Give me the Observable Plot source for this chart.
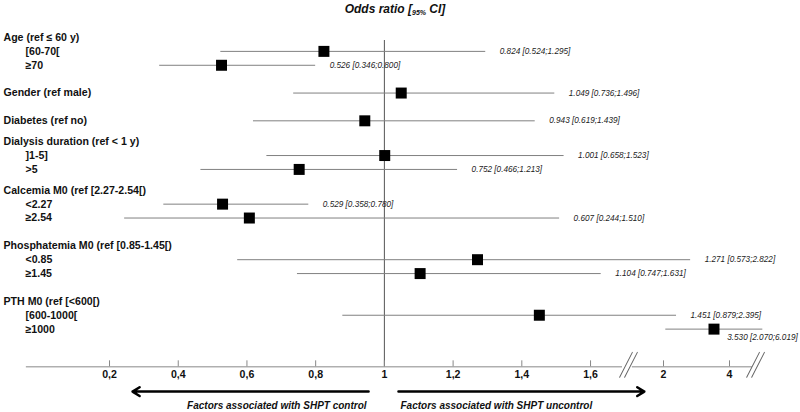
<!DOCTYPE html>
<html><head><meta charset="utf-8">
<script src="https://cdn.jsdelivr.net/npm/d3@7"></script>
<script src="https://cdn.jsdelivr.net/npm/@observablehq/plot@0.6"></script>
<style>
body{margin:0;background:#fff;font-family:"Liberation Sans",Arial,sans-serif;}
#title{height:18px;line-height:18px;width:800px;text-align:center;font-size:12px;font-weight:bold;font-style:italic;padding-right:10px;box-sizing:border-box;color:#111;}
#title sub{font-size:7px;vertical-align:-2px;}
</style></head><body>
<div id="title">Odds ratio [<sub>95%</sub> CI]</div>
<div id="chart"></div>
<script>
// ---- data ----
const headers = ["Age (ref ≤ 60 y)", "Gender (ref male)", "Diabetes (ref no)", "Dialysis duration (ref < 1 y)",
  "Calcemia M0 (ref [2.27-2.54[)", "Phosphatemia M0 (ref [0.85-1.45[)", "PTH M0 (ref [<600[)"];
const levels = ["[60-70[", "≥70", "]1-5]", ">5", "<2.27", "≥2.54", "<0.85", "≥1.45", "[600-1000[", "≥1000"];
const rowKeys = ["[60-70[", "≥70", "Gender (ref male)", "Diabetes (ref no)", "]1-5]", ">5", "<2.27", "≥2.54",
  "<0.85", "≥1.45", "[600-1000[", "≥1000"];
const oddsRatio = [0.824, 0.526, 1.049, 0.943, 1.001, 0.752, 0.529, 0.607, 1.271, 1.104, 1.451, 3.530];
const ciLow     = [0.524, 0.346, 0.736, 0.619, 0.658, 0.466, 0.358, 0.244, 0.573, 0.747, 0.879, 2.070];
const ciHigh    = [1.295, 0.800, 1.496, 1.439, 1.523, 1.213, 0.780, 1.510, 2.822, 1.631, 2.395, 6.019];
const tickValues = [0.2, 0.4, 0.6, 0.8, 1, 1.2, 1.4, 1.6, 2, 4];
const tickLabels = ["0,2", "0,4", "0,6", "0,8", "1", "1,2", "1,4", "1,6", "2", "4"];
const axisSegments = [[-0.042, 1.693], [1.758, 5.39]];
const axisBreaks = [1.728, 5.58];
const arrowNotes = [
  {from: 0.954, to: 0.267, text: "Factors associated with SHPT control"},
  {from: 1.041, to: 1.851, text: "Factors associated with SHPT uncontrol"}
];

// ---- row layout (numbers = half-row gaps) ----
const layout = [
  headers[0], 1, "[60-70[", 1, "≥70", 3, headers[1], 3, headers[2], 2,
  headers[3], 1, "]1-5]", 1, ">5", 2, headers[4], 1, "<2.27", 1, "≥2.54", 3,
  headers[5], 1, "<0.85", 1, "≥1.45", 3, headers[6], 1, "[600-1000[", 1, "≥1000", 4,
  "axis", 3, "arrow", 1, "caption"
];
const yDomain = [];
let g = 0;
for (const item of layout) {
  if (typeof item === "number") { for (let i = 0; i < item; i++) yDomain.push("_gap" + (g++)); }
  else yDomain.push(item);
}

const est = rowKeys.map((k, i) => ({key: k, or: oddsRatio[i], lo: ciLow[i], hi: ciHigh[i]}));
const fmt = v => v.toFixed(3);
const labelOf = d => `${fmt(d.or)} [${fmt(d.lo)};${fmt(d.hi)}]`;
const last = est[est.length - 1];
const ticks = tickValues.map((v, i) => ({v, label: tickLabels[i]}));

const chart = Plot.plot({
  width: 800,
  height: 394,
  marginTop: 19,
  marginBottom: 7,
  marginLeft: 0,
  marginRight: 0,
  style: {fontFamily: "'Liberation Sans', Arial, sans-serif", fontSize: "10px", background: "white", overflow: "visible"},
  x: {type: "linear", domain: [0, 1.7, 2, 4, 8], range: [40.3, 624.4, 663, 729, 795], axis: null},
  y: {type: "point", domain: yDomain, padding: 0, axis: null},
  marks: [
    // reference line at OR = 1
    Plot.ruleX([1], {x: d => d, y1: () => headers[0], y2: () => "axis", stroke: "#555", strokeWidth: 1, insetTop: 3, insetBottom: -3}),
    // confidence intervals
    Plot.ruleY(est, {y: "key", x1: "lo", x2: "hi", stroke: "#808080", strokeWidth: 1}),
    // estimates
    Plot.dot(est, {x: "or", y: "key", symbol: "square", r: 6.2, fill: "black", stroke: "none"}),
    // value labels
    Plot.text(est.filter(d => d !== last), {x: "hi", y: "key", text: labelOf, textAnchor: "start", dx: 14, fontSize: 8.2, fontStyle: "italic", fill: "#222"}),
    Plot.text([last], {x: "hi", y: "key", text: labelOf, textAnchor: "end", dx: 35, dy: 8, fontSize: 8.2, fontStyle: "italic", fill: "#222"}),
    // row labels
    Plot.text(headers, {y: d => d, text: d => d, frameAnchor: "left", textAnchor: "start", dx: 3, fontWeight: "bold", fontSize: 10.6, fill: "#111"}),
    Plot.text(levels, {y: d => d, text: d => d, frameAnchor: "left", textAnchor: "start", dx: 25, fontWeight: "bold", fontSize: 10.6, fill: "#111"}),
    // broken x axis
    Plot.ruleY(axisSegments, {y: () => "axis", x1: d => d[0], x2: d => d[1], dy: 3, stroke: "#888", strokeWidth: 1}),
    Plot.ruleX(ticks, {x: "v", y1: () => "axis", y2: () => "axis", insetTop: -6, dy: 3, stroke: "#888", strokeWidth: 1}),
    Plot.text(ticks, {x: "v", y: () => "axis", text: "label", dy: 11, fontWeight: "bold", fontSize: 10.6, fill: "#111"}),
    Plot.vector(axisBreaks, {x: d => d, y: () => "axis", length: 28, rotate: 27, anchor: "middle", shape: "spike", r: 0, stroke: "#666", strokeWidth: 1, fill: "none", dx: -2.5, dy: 1}),
    Plot.vector(axisBreaks, {x: d => d, y: () => "axis", length: 28, rotate: 27, anchor: "middle", shape: "spike", r: 0, stroke: "#666", strokeWidth: 1, fill: "none", dx: 2.5, dy: 1}),
    // direction arrows
    Plot.arrow(arrowNotes, {x1: "from", x2: "to", y1: () => "arrow", y2: () => "arrow", stroke: "black", strokeWidth: 2.5, headLength: 5, headAngle: 64}),
    Plot.text(arrowNotes.slice(0, 1), {x: "from", y: () => "caption", text: "text", textAnchor: "end", dx: -2, fontWeight: "bold", fontStyle: "italic", fontSize: 10, fill: "#111"}),
    Plot.text(arrowNotes.slice(1), {x: "from", y: () => "caption", text: "text", textAnchor: "start", dx: 2, fontWeight: "bold", fontStyle: "italic", fontSize: 10, fill: "#111"})
  ]
});
document.getElementById("chart").appendChild(chart);
</script></body></html>
